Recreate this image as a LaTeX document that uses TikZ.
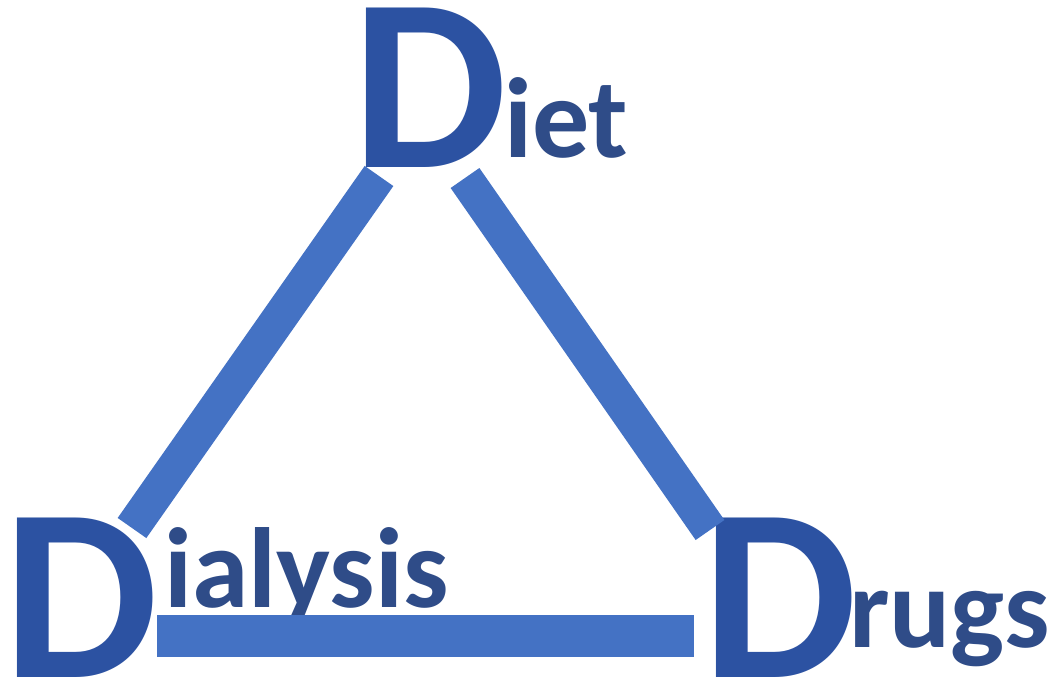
\documentclass[tikz,border=0pt]{standalone}
\usepackage{fontspec}
\setmainfont{Carlito}
\definecolor{bigD}{HTML}{2C52A2}
\definecolor{small}{HTML}{2F4C88}
\definecolor{bar}{HTML}{4472C4}
\tikzset{
  bigletter/.style={anchor=base west,inner sep=0pt,outer sep=0pt,text=bigD,text height=165pt,text depth=2pt,font=\fontsize{246}{246}\selectfont\bfseries},
  smallword/.style={anchor=base west,inner sep=0pt,outer sep=0pt,text=small,text height=80pt,text depth=25pt,font=\fontsize{114}{114}\selectfont\bfseries},
  barline/.style={draw=bar,line width=35pt,line cap=butt},
}
\begin{document}
\begin{tikzpicture}[x=1pt,y=-1pt]
\useasboundingbox[fill=white] (0,0) rectangle (1048,680);
% Diet
\node[bigletter] (dietD) at (352,167) {D};
\node[smallword] (diet) at (504,157) {iet};
% Dialysis
\node[bigletter] (dialD) at (4,677) {D};
\node[smallword] (dial) at (164,607) {ialysis};
% Drugs
\node[bigletter] (drugD) at (702,677) {D};
\node[smallword] (drug) at (849,647) {rugs};
% bar end points
\coordinate (lt) at (379,176);
\coordinate (lb) at (132,528);
\coordinate (rt) at (465,178);
\coordinate (rb) at (710,530);
\coordinate (bl) at (157,636);
\coordinate (br) at (694,636);
\draw[barline] (lt) -- (lb);
\draw[barline] (rt) -- (rb);
\draw[draw=bar,line width=42pt,line cap=butt] (bl) -- (br);
\end{tikzpicture}
\end{document}
